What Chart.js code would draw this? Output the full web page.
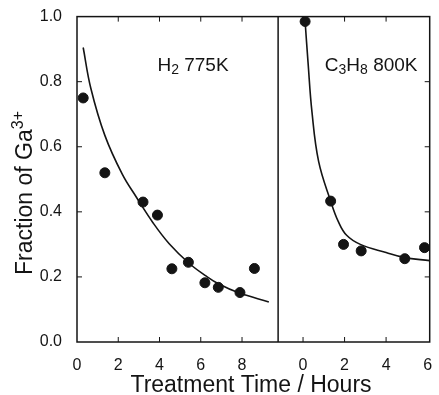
<!DOCTYPE html>
<html>
<head>
<meta charset="utf-8">
<script src="https://cdn.jsdelivr.net/npm/chart.js@4.4.1/dist/chart.umd.min.js"></script>
<style>
  html, body { margin: 0; padding: 0; background: #fff; }
  #wrap { width: 439px; height: 395px; }
</style>
</head>
<body>
<div id="wrap"><canvas id="chart" width="439" height="395"></canvas></div>
<script>
// H2 at 775 K: measured points
const h2Time = [0.3, 1.35, 3.2, 3.9, 4.6, 5.4, 6.2, 6.85, 7.9, 8.6];
const h2Frac = [0.75, 0.52, 0.43, 0.39, 0.225, 0.245, 0.182, 0.168, 0.152, 0.226];
// H2 fitted curve
const h2FitTime = [0.3, 0.67, 1.35, 2.2, 2.88, 3.7, 4.47, 5.43, 6.25, 6.88, 7.84, 9.3];
const h2FitFrac = [0.905, 0.78, 0.635, 0.515, 0.445, 0.365, 0.302, 0.242, 0.203, 0.178, 0.151, 0.123];

// C3H8 at 800 K: measured points
const c3Time = [0.1, 1.33, 1.95, 2.8, 4.9, 5.85];
const c3Frac = [0.985, 0.433, 0.30, 0.28, 0.256, 0.29];
// C3H8 fitted curve
const c3FitTime = [0.1, 0.24, 0.43, 0.75, 1.33, 1.7, 2.1, 2.76, 4.0, 4.86, 6.1];
const c3FitFrac = [0.985, 0.86, 0.707, 0.555, 0.433, 0.37, 0.328, 0.30, 0.275, 0.26, 0.25];

// tick labels
const x1Ticks = [0, 2, 4, 6, 8];
const x2Ticks = [0, 2, 4, 6];
const yTicks = [0, 0.2, 0.4, 0.6, 0.8, 1.0];

const ink = '#141414';
const font = 'Liberation Sans, Arial, Helvetica, sans-serif';

const pts = (xs, ys) => xs.map((x, i) => ({ x: x, y: ys[i] }));

// text with sub/superscripts: parts = [[text, shift]], shift 0 normal, >0 down, <0 up
function drawParts(ctx, parts, x, y, size, small) {
  let cx = x;
  parts.forEach(([txt, shift]) => {
    ctx.font = (shift ? small : size) + 'px ' + font;
    ctx.fillText(txt, cx, y + shift);
    cx += ctx.measureText(txt).width;
  });
}
function partsWidth(ctx, parts, size, small) {
  let w = 0;
  parts.forEach(([txt, shift]) => {
    ctx.font = (shift ? small : size) + 'px ' + font;
    w += ctx.measureText(txt).width;
  });
  return w;
}

const framePlugin = {
  id: 'frame',
  afterDraw(chart) {
    const { ctx, chartArea: a, scales } = chart;
    const { x1, x2, y } = scales;
    ctx.save();
    ctx.strokeStyle = ink;
    ctx.fillStyle = ink;

    // box and panel divider
    ctx.lineWidth = 1.5;
    ctx.strokeRect(a.left, a.top, a.right - a.left, a.bottom - a.top);
    ctx.beginPath();
    ctx.moveTo(x2.left, a.top);
    ctx.lineTo(x2.left, a.bottom);
    ctx.stroke();

    // inward tick marks
    ctx.lineWidth = 1;
    const tl = 5;
    const seg = (ax, ay, bx, by) => { ctx.beginPath(); ctx.moveTo(ax, ay); ctx.lineTo(bx, by); ctx.stroke(); };
    [x1, x2].forEach(s => s.ticks.forEach(t => {
      const px = s.getPixelForValue(t.value);
      if (px < s.left + 3 || px > s.right - 3) return;
      seg(px, a.bottom, px, a.bottom - tl);
      seg(px, a.top, px, a.top + tl);
    }));
    y.ticks.forEach(t => {
      const py = y.getPixelForValue(t.value);
      if (py < a.top + 3 || py > a.bottom - 3) return;
      seg(a.left, py, a.left + tl, py);
      seg(a.right, py, a.right - tl, py);
    });

    // panel labels
    ctx.textAlign = 'left';
    ctx.textBaseline = 'alphabetic';
    drawParts(ctx, [['H', 0], ['2', 3], [' 775K', 0]],
      x1.getPixelForValue(3.9), y.getPixelForValue(0.855) + 7, 19, 14);
    drawParts(ctx, [['C', 0], ['3', 3], ['H', 0], ['8', 3], [' 800K', 0]],
      x2.getPixelForValue(1.05), y.getPixelForValue(0.855) + 7, 19, 14);

    // axis titles
    ctx.font = '23px ' + font;
    ctx.textAlign = 'center';
    ctx.fillText('Treatment Time / Hours', 251, 392);

    const yParts = [['Fraction of Ga', 0], ['3+', -9]];
    const w = partsWidth(ctx, yParts, 23, 16);
    ctx.translate(32, 193);
    ctx.rotate(-Math.PI / 2);
    ctx.textAlign = 'left';
    drawParts(ctx, yParts, -w / 2, 0, 23, 16);
    ctx.restore();
  }
};

const tickFont = { family: font, size: 16 };

new Chart(document.getElementById('chart'), {
  type: 'scatter',
  data: {
    datasets: [
      {
        label: 'H2 775K',
        data: pts(h2Time, h2Frac),
        xAxisID: 'x1',
        pointRadius: 5,
        pointBackgroundColor: ink,
        pointBorderColor: ink,
        clip: false,
      },
      {
        label: 'H2 fit',
        data: pts(h2FitTime, h2FitFrac),
        xAxisID: 'x1',
        showLine: true,
        pointRadius: 0,
        borderColor: ink,
        borderWidth: 1.6,
        tension: 0.4,
      },
      {
        label: 'C3H8 800K',
        data: pts(c3Time, c3Frac),
        xAxisID: 'x2',
        pointRadius: 5,
        pointBackgroundColor: ink,
        pointBorderColor: ink,
        clip: false,
      },
      {
        label: 'C3H8 fit',
        data: pts(c3FitTime, c3FitFrac),
        xAxisID: 'x2',
        showLine: true,
        pointRadius: 0,
        borderColor: ink,
        borderWidth: 1.6,
        tension: 0.4,
        clip: false,
      },
    ],
  },
  options: {
    responsive: false,
    animation: false,
    layout: { padding: { top: 14, right: 6, left: 0, bottom: 0 } },
    plugins: { legend: { display: false }, tooltip: { enabled: false } },
    scales: {
      x1: {
        type: 'linear',
        position: 'bottom',
        stack: 'time',
        stackWeight: 203,
        min: 0,
        max: 9.75,
        grid: { display: false },
        border: { display: false },
        ticks: { color: ink, font: tickFont, padding: 6 },
        afterBuildTicks: s => { s.ticks = x1Ticks.map(v => ({ value: v })); },
        afterFit: s => { s.height = 53; },
      },
      x2: {
        type: 'linear',
        position: 'bottom',
        stack: 'time',
        stackWeight: 153,
        min: -1.2,
        max: 6.1,
        grid: { display: false },
        border: { display: false },
        ticks: { color: ink, font: tickFont, padding: 6 },
        afterBuildTicks: s => { s.ticks = x2Ticks.map(v => ({ value: v })); },
        afterFit: s => { s.height = 53; },
      },
      y: {
        type: 'linear',
        position: 'left',
        min: 0,
        max: 1,
        grid: { display: false },
        border: { display: false },
        ticks: { color: ink, font: tickFont, padding: 7, callback: v => v.toFixed(1) },
        afterBuildTicks: s => { s.ticks = yTicks.map(v => ({ value: v })); },
        afterFit: s => { s.width = 77; },
      },
    },
  },
  plugins: [framePlugin],
});
</script>
</body>
</html>
